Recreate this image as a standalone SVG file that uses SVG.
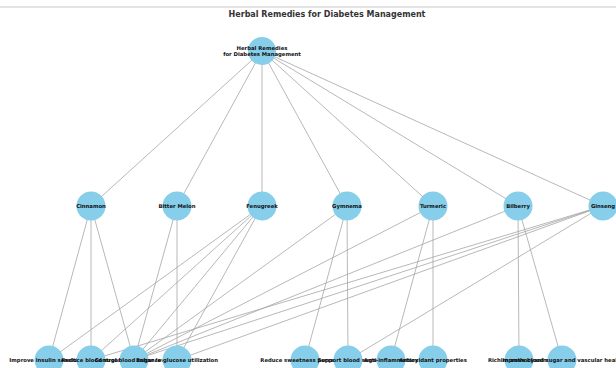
<svg xmlns="http://www.w3.org/2000/svg" width="616" height="368" viewBox="0 0 616 368">
  <style>
    .bg { fill: #ffffff; }
    .frame { stroke: #c8c8c8; stroke-width: 1; }
    .title { font-family: "DejaVu Sans", sans-serif; font-weight: bold; font-size: 8px; fill: #333333; text-anchor: middle; }
    .edge { stroke: #a0a0a0; stroke-width: 0.75; fill: none; }
    .node circle { fill: #87ceeb; }
    .node text { font-family: "DejaVu Sans", sans-serif; font-weight: bold; font-size: 5.3px; fill: #111111; text-anchor: middle; }
  </style>
  <rect class="bg" x="0" y="0" width="616" height="368"/>
  <line class="frame" x1="0" y1="7" x2="616" y2="7"/>
  <text class="title" x="327" y="17">Herbal Remedies for Diabetes Management</text>

  <g id="connectors">
    <!-- root to herbs -->
    <line class="edge" x1="262" y1="51" x2="91" y2="206"/>
    <line class="edge" x1="262" y1="51" x2="177" y2="206"/>
    <line class="edge" x1="262" y1="51" x2="262" y2="206"/>
    <line class="edge" x1="262" y1="51" x2="347" y2="206"/>
    <line class="edge" x1="262" y1="51" x2="433" y2="206"/>
    <line class="edge" x1="262" y1="51" x2="518" y2="206"/>
    <line class="edge" x1="262" y1="51" x2="603" y2="206"/>
    <!-- Cinnamon -->
    <line class="edge" x1="91" y1="206" x2="49" y2="360"/>
    <line class="edge" x1="91" y1="206" x2="91" y2="360"/>
    <line class="edge" x1="91" y1="206" x2="134" y2="360"/>
    <!-- Bitter Melon -->
    <line class="edge" x1="177" y1="206" x2="134" y2="360"/>
    <line class="edge" x1="177" y1="206" x2="177" y2="360"/>
    <!-- Fenugreek -->
    <line class="edge" x1="262" y1="206" x2="49" y2="360"/>
    <line class="edge" x1="262" y1="206" x2="91" y2="360"/>
    <line class="edge" x1="262" y1="206" x2="134" y2="360"/>
    <line class="edge" x1="262" y1="206" x2="177" y2="360"/>
    <!-- Gymnema -->
    <line class="edge" x1="347" y1="206" x2="134" y2="360"/>
    <line class="edge" x1="347" y1="206" x2="305" y2="360"/>
    <line class="edge" x1="347" y1="206" x2="348" y2="360"/>
    <!-- Turmeric -->
    <line class="edge" x1="433" y1="206" x2="134" y2="360"/>
    <line class="edge" x1="433" y1="206" x2="391" y2="360"/>
    <line class="edge" x1="433" y1="206" x2="433" y2="360"/>
    <!-- Bilberry -->
    <line class="edge" x1="518" y1="206" x2="134" y2="360"/>
    <line class="edge" x1="518" y1="206" x2="519" y2="360"/>
    <line class="edge" x1="518" y1="206" x2="562" y2="360"/>
    <!-- Ginseng -->
    <line class="edge" x1="603" y1="206" x2="91" y2="360"/>
    <line class="edge" x1="603" y1="206" x2="134" y2="360"/>
    <line class="edge" x1="603" y1="206" x2="177" y2="360"/>
    <line class="edge" x1="603" y1="206" x2="348" y2="360"/>
  </g>

  <g id="root" class="node">
    <circle cx="262" cy="51" r="14"/>
    <text x="262" y="50">Herbal Remedies</text>
    <text x="262" y="56">for Diabetes Management</text>
  </g>

  <g id="cinnamon" class="node"><circle cx="91" cy="206" r="14.5"/><text x="91" y="208">Cinnamon</text></g>
  <g id="bitter-melon" class="node"><circle cx="177" cy="206" r="14.5"/><text x="177" y="208">Bitter Melon</text></g>
  <g id="fenugreek" class="node"><circle cx="262" cy="206" r="14.5"/><text x="262" y="208">Fenugreek</text></g>
  <g id="gymnema" class="node"><circle cx="347" cy="206" r="14.5"/><text x="347" y="208">Gymnema</text></g>
  <g id="turmeric" class="node"><circle cx="433" cy="206" r="14.5"/><text x="433" y="208">Turmeric</text></g>
  <g id="bilberry" class="node"><circle cx="518" cy="206" r="14.5"/><text x="518" y="208">Bilberry</text></g>
  <g id="ginseng" class="node"><circle cx="603" cy="206" r="14.5"/><text x="603" y="208">Ginseng</text></g>

  <g id="insulin-sensitivity" class="node"><circle cx="49" cy="360" r="14.5"/><text x="49" y="362">Improve insulin sensitivity</text></g>
  <g id="reduce-blood-sugar" class="node"><circle cx="91" cy="360" r="14.5"/><text x="91" y="362">Reduce blood sugar</text></g>
  <g id="control-blood-sugar" class="node"><circle cx="134" cy="360" r="14.5"/><text x="134" y="362">Control blood sugar levels</text></g>
  <g id="glucose-utilization" class="node"><circle cx="177" cy="360" r="14.5"/><text x="177" y="362">Enhance glucose utilization</text></g>
  <g id="reduce-sweetness" class="node"><circle cx="305" cy="360" r="14.5"/><text x="305" y="362">Reduce sweetness perception</text></g>
  <g id="support-blood-sugar" class="node"><circle cx="348" cy="360" r="14.5"/><text x="348" y="362">Support blood sugar</text></g>
  <g id="anti-inflammatory" class="node"><circle cx="391" cy="360" r="14.5"/><text x="391" y="362">Anti-inflammatory</text></g>
  <g id="antioxidant" class="node"><circle cx="433" cy="360" r="14.5"/><text x="433" y="362">Antioxidant properties</text></g>
  <g id="anthocyanins" class="node"><circle cx="519" cy="360" r="14.5"/><text x="519" y="362">Rich in anthocyanins</text></g>
  <g id="vascular-health" class="node"><circle cx="562" cy="360" r="14.5"/><text x="562" y="362">Improve blood sugar and vascular health</text></g>
</svg>
